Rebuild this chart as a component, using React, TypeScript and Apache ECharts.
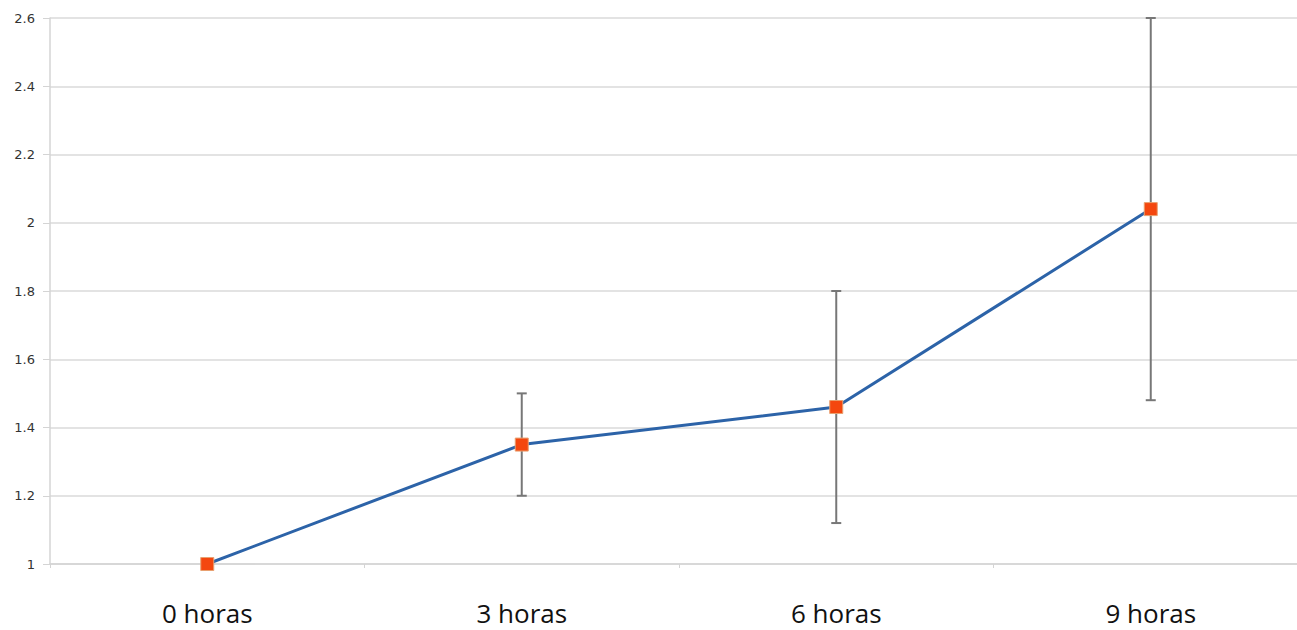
import React, { useEffect, useRef } from "react";
import * as echarts from "echarts";

const categories = ["0 horas", "3 horas", "6 horas", "9 horas"];
const means = [1.0, 1.35, 1.46, 2.04];
const lowErr = [1.0, 1.2, 1.12, 1.48];
const highErr = [1.0, 1.5, 1.8, 2.6];
const yMin = 1;
const yMax = 2.6;
const yStep = 0.2;

export default function App() {
  const ref = useRef<HTMLDivElement>(null);
  useEffect(() => {
    if (!ref.current) return;
    const chart = echarts.init(ref.current, undefined, { renderer: "svg" });
    const errData = categories
      .map((_, i) => [i, lowErr[i], highErr[i]])
      .filter((d) => d[1] !== d[2]);
    chart.setOption({
      animation: false,
      backgroundColor: "#ffffff",
      grid: { left: 50, right: 12, top: 18, bottom: 66, containLabel: false },
      xAxis: {
        type: "category",
        data: categories,
        boundaryGap: true,
        axisLine: { lineStyle: { color: "#d4d4d4", width: 1.5 } },
        axisTick: { show: true, length: 4, lineStyle: { color: "#d4d4d4" } },
        axisLabel: {
          color: "#111",
          fontSize: 26,
          fontFamily: "Open Sans",
          margin: 36,
        },
        splitLine: { show: false },
      },
      yAxis: {
        type: "value",
        min: yMin,
        max: yMax,
        interval: yStep,
        axisLine: { show: true, lineStyle: { color: "#d4d4d4", width: 1.5 } },
        axisTick: { show: true, length: 7, lineStyle: { color: "#d4d4d4" } },
        axisLabel: {
          color: "#333",
          fontSize: 13,
          fontFamily: "DejaVu Sans",
          margin: 15,
          formatter: (v: number) => String(Math.round(v * 10) / 10),
        },
        splitLine: { lineStyle: { color: "#dadada", width: 1.5 } },
      },
      series: [
        {
          type: "custom",
          z: 1,
          data: errData,
          renderItem: (params: any, api: any) => {
            const x = api.value(0);
            const lo = api.coord([x, api.value(1)]);
            const hi = api.coord([x, api.value(2)]);
            const hw = 5;
            const style = { stroke: "#777777", lineWidth: 2 };
            return {
              type: "group",
              children: [
                { type: "line", shape: { x1: hi[0], y1: hi[1], x2: lo[0], y2: lo[1] }, style },
                { type: "line", shape: { x1: hi[0] - hw, y1: hi[1], x2: hi[0] + hw, y2: hi[1] }, style },
                { type: "line", shape: { x1: lo[0] - hw, y1: lo[1], x2: lo[0] + hw, y2: lo[1] }, style },
              ],
            };
          },
        },
        {
          type: "line",
          z: 2,
          data: means,
          symbol: "rect",
          symbolSize: 13,
          lineStyle: { color: "#2c63a8", width: 3 },
          itemStyle: {
            color: "#f4470f",
            borderColor: "#e8a070",
            borderWidth: 1,
          },
        },
      ],
    });
    return () => chart.dispose();
  }, []);
  return (
    <div
      ref={ref}
      style={{ position: "fixed", left: 0, top: 0, width: 1320, height: 630 }}
    />
  );
}
